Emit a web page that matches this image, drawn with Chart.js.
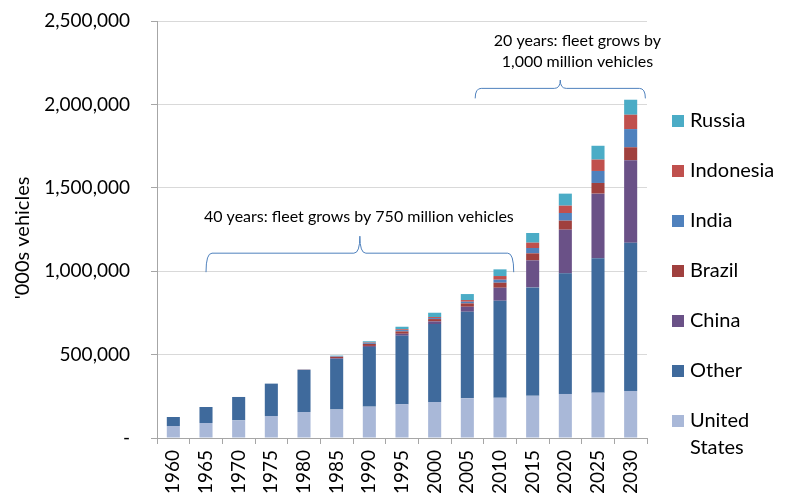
<!DOCTYPE html>
<html><head><meta charset="utf-8">
<script src="https://cdn.jsdelivr.net/npm/chart.js@4.4.1/dist/chart.umd.min.js"></script>
<style>html,body{margin:0;padding:0;background:#fff;}#wrap{width:790px;height:496px;}</style>
</head><body><div id="wrap"><canvas id="c" width="790" height="496"></canvas></div>
<script>
// ---- data ('000s vehicles) ----
const years = ['1960','1965','1970','1975','1980','1985','1990','1995','2000','2005','2010','2015','2020','2025','2030'];
const unitedStates = [72000, 90000, 106000, 132000, 156000, 171000, 188000, 203000, 216000, 238000, 241000, 253000, 264000, 272000, 282000];
const other        = [54000, 96000, 140000, 194000, 252000, 303000, 358000, 410000, 467000, 519000, 582000, 650000, 723000, 805000, 889000];
const china        = [0, 0, 0, 0, 1000, 4000, 6000, 12000, 16000, 30000, 78000, 162000, 262000, 388000, 494000];
const brazil       = [0, 0, 0, 0, 1000, 8000, 12000, 14000, 14000, 20000, 30000, 42000, 54000, 64000, 78000];
const india        = [0, 0, 0, 0, 0, 3000, 5000, 8000, 6000, 10000, 18000, 32000, 46000, 72000, 109000];
const indonesia    = [0, 0, 0, 0, 0, 2000, 3000, 5000, 6000, 10000, 22000, 32000, 44000, 68000, 86000];
const russia       = [0, 0, 0, 0, 1000, 3000, 8000, 15000, 26000, 36000, 40000, 58000, 72000, 83000, 90000];
const yTickValues  = [0, 500000, 1000000, 1500000, 2000000, 2500000];
const yTitle = "'000s vehicles";
const note1 = '40 years: fleet grows by 750 million vehicles';
const note2 = ['20 years: fleet grows by', '1,000 million vehicles'];

// ---- styles ----
const colors = {
  'United States': '#A9B8D8', 'Other': '#3F6A9C', 'China': '#6A5187', 'Brazil': '#A0403E',
  'India': '#4F81BD', 'Indonesia': '#C0504D', 'Russia': '#4BACC6'
};
const FONT = 'Lato';

const series = [
  ['United States', unitedStates], ['Other', other], ['China', china], ['Brazil', brazil],
  ['India', india], ['Indonesia', indonesia], ['Russia', russia]
];

const datasets = series.map(([name, vals]) => ({
  label: name, data: vals, backgroundColor: colors[name], borderWidth: 0,
  barPercentage: 0.4, categoryPercentage: 1.0
}));

function brace(ctx, x1, x2, yLine, yEnd, yPeak) {
  const xm = (x1 + x2) / 2, r = 6;
  ctx.beginPath();
  ctx.moveTo(x1, yEnd);
  ctx.quadraticCurveTo(x1, yLine, x1 + r, yLine);
  ctx.lineTo(xm - r, yLine);
  ctx.quadraticCurveTo(xm, yLine, xm, yPeak);
  ctx.quadraticCurveTo(xm, yLine, xm + r, yLine);
  ctx.lineTo(x2 - r, yLine);
  ctx.quadraticCurveTo(x2, yLine, x2, yEnd);
  ctx.stroke();
}

const extras = {
  id: 'extras',
  afterDraw(chart) {
    const ctx = chart.ctx, xs = chart.scales.x, ys = chart.scales.y, ca = chart.chartArea;
    ctx.save();
    // y title
    ctx.fillStyle = '#000';
    ctx.font = `20px ${FONT}`;
    ctx.textAlign = 'center'; ctx.textBaseline = 'middle';
    ctx.save(); ctx.translate(23, 238); ctx.rotate(-Math.PI / 2); ctx.fillText(yTitle, 0, 0); ctx.restore();
    // braces
    ctx.strokeStyle = '#4F81BD'; ctx.lineWidth = 1;
    brace(ctx, xs.getPixelForValue(1.0), xs.getPixelForValue(10.42),
      ys.getPixelForValue(1108000), ys.getPixelForValue(994000), ys.getPixelForValue(1210000));
    brace(ctx, xs.getPixelForValue(9.24), xs.getPixelForValue(14.45),
      ys.getPixelForValue(2096000), ys.getPixelForValue(2036000), ys.getPixelForValue(2146000));
    ctx.font = `16px ${FONT}`;
    ctx.fillText(note1, xs.getPixelForValue(5.68), ys.getPixelForValue(1324000));
    ctx.fillText(note2[0], xs.getPixelForValue(12.37), ys.getPixelForValue(2380000));
    ctx.fillText(note2[1], xs.getPixelForValue(12.37), ys.getPixelForValue(2254000));
    // legend (reverse order)
    ctx.font = `20px ${FONT}`;
    ctx.textAlign = 'left';
    const order = series.slice().reverse();
    const lx = ca.right + 25;
    order.forEach(([name], i) => {
      const cy = 121 + i * 50;
      ctx.fillStyle = colors[name];
      ctx.fillRect(lx, cy - 6, 12, 12);
      ctx.fillStyle = '#000';
      if (name === 'United States') {
        ctx.fillText('United', lx + 18, cy);
        ctx.fillText('States', lx + 18, cy + 27);
      } else {
        ctx.fillText(name, lx + 18, cy);
      }
    });
    ctx.restore();
  }
};

new Chart(document.getElementById('c'), {
  type: 'bar',
  data: { labels: years, datasets },
  options: {
    responsive: false, animation: false, devicePixelRatio: 1,
    layout: { padding: { top: 21, right: 143, bottom: 0, left: 0 } },
    plugins: { legend: { display: false }, tooltip: { enabled: false } },
    scales: {
      x: {
        stacked: true,
        grid: { offset: true, drawOnChartArea: false, tickLength: 6, color: '#A6A6A6' },
        border: { color: '#A6A6A6' },
        ticks: { autoSkip: false, minRotation: 90, maxRotation: 90, padding: 6, color: '#000', font: { family: FONT, size: 19 } },
        afterFit: s => { s.height = 58; s.paddingLeft = 0; s.paddingRight = 0; }
      },
      y: {
        stacked: true, min: 0, max: 2500000,
        afterBuildTicks: s => { s.ticks = yTickValues.map(v => ({ value: v })); },
        grid: { color: '#D9D9D9', tickColor: '#A6A6A6', tickLength: 6 },
        border: { color: '#A6A6A6' },
        ticks: {
          padding: 21, color: '#000', font: { family: FONT, size: 19 },
          callback: v => v === 0 ? '-' : Number(v).toLocaleString('en-US')
        },
        afterFit: s => { s.width = 157; s.paddingTop = 0; s.paddingBottom = 0; }
      }
    }
  },
  plugins: [extras]
});
</script></body></html>
